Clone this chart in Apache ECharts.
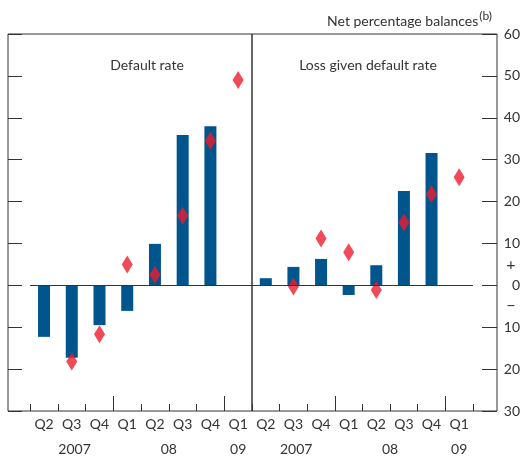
<!DOCTYPE html>
<html>
<head>
<meta charset="utf-8">
<script src="https://cdn.jsdelivr.net/npm/echarts@6/dist/echarts.min.js"></script>
<style>
  html, body { margin: 0; padding: 0; background: #fff; }
  #chart { width: 523px; height: 458px; }
</style>
</head>
<body>
<div id="chart"></div>
<script>
// quarters Q2 2007 .. Q1 2009
var quarters = ['Q2', 'Q3', 'Q4', 'Q1', 'Q2', 'Q3', 'Q4', 'Q1']
var years = [{ at: 1.1, label: '2007' }, { at: 4.5, label: '08' }, { at: 7, label: '09' }]

// net percentage balances; bars = past three months, diamonds = expected next three months
var defaultBars = [-12.3, -17.3, -9.5, -6.1, 9.9, 35.9, 38.0, null]
var defaultExpected = [null, -18.2, -11.7, 5.0, 2.5, 16.6, 34.5, 49.0]
var lgdBars = [1.7, 4.4, 6.3, -2.3, 4.8, 22.5, 31.6, null]
var lgdExpected = [null, -0.3, 11.2, 7.9, -1.1, 15.0, 21.8, 25.8]

var yTicks = [60, 50, 40, 30, 20, 10, 0, -10, -20, -30]

var blue = '#00558c'
var red = '#ec1c2e'
var ink = '#333'
var font = 'Lato'

function pairs(arr) {
  var out = []
  arr.forEach(function (v, i) {
    if (v !== null) out.push([i, v])
  })
  return out
}

var minorTicks = []
for (var t = -0.5; t <= 7.5; t++) minorTicks.push(t)

function xAxes(grid, min, max) {
  return [{
    type: 'value', gridIndex: grid, min: min, max: max, position: 'bottom',
    axisLine: { show: false, onZero: false },
    splitLine: { show: false },
    axisTick: { show: true, inside: true, length: 7, customValues: minorTicks, lineStyle: { color: ink } },
    axisLabel: {
      customValues: [0, 1, 2, 3, 4, 5, 6, 7], margin: 6,
      color: ink, fontFamily: font, fontSize: 14,
      formatter: function (v) { return quarters[Math.round(v)] }
    }
  }, {
    type: 'value', gridIndex: grid, min: min, max: max, position: 'bottom',
    axisLine: { show: false, onZero: false },
    splitLine: { show: false },
    axisTick: { show: true, inside: true, length: 15, customValues: [2.5, 6.5], lineStyle: { color: ink } },
    axisLabel: {
      customValues: years.map(function (y) { return y.at }), margin: 31,
      color: ink, fontFamily: font, fontSize: 14,
      formatter: function (v) {
        for (var i = 0; i < years.length; i++) if (years[i].at === v) return years[i].label
        return ''
      }
    }
  }]
}

var chart = echarts.init(document.getElementById('chart'))

chart.setOption({
  backgroundColor: '#fff',
  animation: false,
  textStyle: { fontFamily: font },
  title: [{
    text: '{a|Net percentage balances}{s|(b)}',
    right: 26, top: 5,
    textStyle: {
      fontWeight: 'normal',
      rich: {
        a: { fontSize: 14, fontWeight: 'normal', color: ink, fontFamily: font, verticalAlign: 'bottom' },
        s: { fontSize: 12, fontWeight: 'normal', color: ink, fontFamily: font, verticalAlign: 'top', padding: [0, 0, 6, 1] }
      }
    }
  }, {
    text: 'Default rate', left: 142, top: 53, textAlign: 'center',
    textStyle: { fontSize: 14, fontWeight: 'normal', color: ink, fontFamily: font }
  }, {
    text: 'Loss given default rate', left: 363, top: 53, textAlign: 'center',
    textStyle: { fontSize: 14, fontWeight: 'normal', color: ink, fontFamily: font }
  }],
  grid: [
    { left: 8, right: 271, top: 34, bottom: 47, show: true, borderColor: ink, borderWidth: 1 },
    { left: 252, right: 25, top: 34, bottom: 47, show: true, borderColor: ink, borderWidth: 1 }
  ],
  xAxis: xAxes(0, -1.3, 7.5).concat(xAxes(1, -0.5, 8.37)),
  yAxis: [{
    type: 'value', gridIndex: 0, min: -30, max: 60, interval: 10, position: 'left',
    axisLine: { show: false, onZero: false }, splitLine: { show: false },
    axisTick: { show: true, inside: true, length: 14, lineStyle: { color: ink } },
    axisLabel: { show: false }
  }, {
    type: 'value', gridIndex: 1, min: -30, max: 60, interval: 10, position: 'right',
    axisLine: { show: false, onZero: false }, splitLine: { show: false },
    axisTick: { show: true, inside: true, length: 15, lineStyle: { color: ink } },
    axisLabel: {
      customValues: yTicks, align: 'right', margin: 23,
      color: ink, fontFamily: font, fontSize: 14,
      formatter: function (v) { return String(Math.abs(v)) }
    }
  }, {
    type: 'value', gridIndex: 1, min: -30, max: 60, position: 'right',
    axisLine: { show: false, onZero: false }, splitLine: { show: false }, axisTick: { show: false },
    axisLabel: {
      customValues: [5, -5], align: 'center', margin: 14,
      color: ink, fontFamily: font, fontSize: 16,
      formatter: function (v) { return v > 0 ? '+' : '\u2212' }
    }
  }],
  series: [{
    type: 'bar', xAxisIndex: 0, yAxisIndex: 0,
    data: pairs(defaultBars), barWidth: 12,
    itemStyle: { color: blue },
    markLine: {
      silent: true, symbol: 'none', label: { show: false },
      lineStyle: { color: ink, width: 1, type: 'solid' },
      data: [[{ coord: [-0.5, 0] }, { coord: [7.5, 0] }]]
    }
  }, {
    type: 'scatter', xAxisIndex: 0, yAxisIndex: 0,
    data: pairs(defaultExpected), symbol: 'diamond', symbolSize: [11, 18],
    itemStyle: { color: red }
  }, {
    type: 'bar', xAxisIndex: 2, yAxisIndex: 1,
    data: pairs(lgdBars), barWidth: 12,
    itemStyle: { color: blue },
    markLine: {
      silent: true, symbol: 'none', label: { show: false },
      lineStyle: { color: ink, width: 1, type: 'solid' },
      data: [[{ coord: [-0.5, 0] }, { coord: [7.5, 0] }]]
    }
  }, {
    type: 'scatter', xAxisIndex: 2, yAxisIndex: 1,
    data: pairs(lgdExpected), symbol: 'diamond', symbolSize: [11, 18],
    itemStyle: { color: red }
  }]
})
</script>
</body>
</html>
